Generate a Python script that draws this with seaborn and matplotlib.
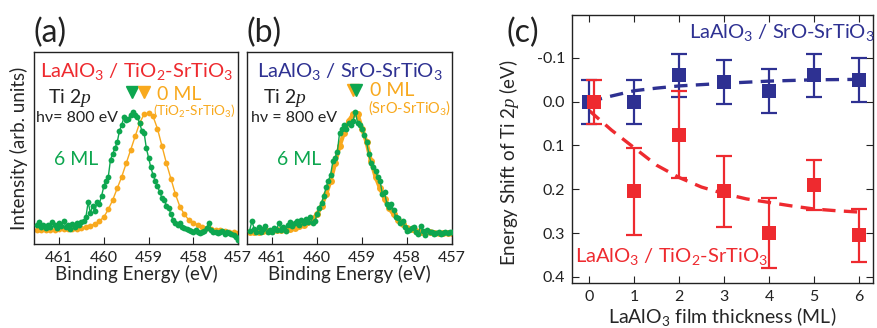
import matplotlib
matplotlib.use("Agg")
import matplotlib.pyplot as plt
import numpy as np
import pandas as pd
import seaborn as sns

# ---- panel (a): LaAlO3 / TiO2-SrTiO3, Ti 2p spectra ----
a_ref_energy = [461.5, 461.4, 461.3, 461.2, 461.1, 461.0, 460.9, 460.8, 460.7, 460.6,
                460.5, 460.4, 460.3, 460.2, 460.1, 460.0, 459.9, 459.8, 459.7, 459.6,
                459.5, 459.4, 459.3, 459.2, 459.1, 459.0, 458.9, 458.8, 458.7, 458.6,
                458.5, 458.4, 458.3, 458.2, 458.1, 458.0, 457.9, 457.8, 457.7, 457.6,
                457.5, 457.4, 457.3, 457.2, 457.1, 457.0]
a_ref_int = [0.075, 0.075, 0.075, 0.075, 0.075, 0.076, 0.076, 0.077, 0.078, 0.08,
             0.083, 0.088, 0.095, 0.105, 0.12, 0.14, 0.18, 0.23, 0.29, 0.35,
             0.42, 0.49, 0.56, 0.63, 0.675, 0.68, 0.665, 0.60, 0.51, 0.42,
             0.34, 0.26, 0.195, 0.155, 0.125, 0.11, 0.10, 0.09, 0.085, 0.08,
             0.075, 0.072, 0.068, 0.065, 0.06, 0.058]

a_film_energy = [461.5, 461.45, 461.4, 461.35, 461.3, 461.25, 461.2, 461.15, 461.1, 461.05,
                 461.0, 460.95, 460.9, 460.85, 460.8, 460.75, 460.7, 460.65, 460.6, 460.55,
                 460.5, 460.45, 460.4, 460.35, 460.3, 460.25, 460.2, 460.15, 460.1, 460.05,
                 460.0, 459.95, 459.9, 459.85, 459.8, 459.75, 459.7, 459.65, 459.6, 459.55,
                 459.5, 459.45, 459.4, 459.35, 459.3, 459.25, 459.2, 459.15, 459.1, 459.05,
                 459.0, 458.95, 458.9, 458.85, 458.8, 458.75, 458.7, 458.65, 458.6, 458.55,
                 458.5, 458.45, 458.4, 458.35, 458.3, 458.25, 458.2, 458.15, 458.1, 458.05,
                 458.0, 457.95, 457.9, 457.85, 457.8, 457.75, 457.7, 457.65, 457.6, 457.55,
                 457.5, 457.45, 457.4, 457.35, 457.3, 457.25, 457.2, 457.15, 457.1, 457.05,
                 457.0]
a_film_int = [0.10, 0.115, 0.09, 0.10, 0.085, 0.10, 0.09, 0.115, 0.10, 0.085,
              0.11, 0.095, 0.12, 0.09, 0.10, 0.08, 0.105, 0.09, 0.11, 0.10,
              0.115, 0.12, 0.14, 0.22, 0.16, 0.20, 0.17, 0.22, 0.21, 0.25,
              0.30, 0.33, 0.35, 0.44, 0.47, 0.50, 0.53, 0.59, 0.62, 0.66,
              0.645, 0.65, 0.67, 0.69, 0.67, 0.66, 0.63, 0.59, 0.58, 0.50,
              0.45, 0.40, 0.36, 0.33, 0.30, 0.27, 0.24, 0.23, 0.20, 0.19,
              0.155, 0.125, 0.11, 0.10, 0.11, 0.09, 0.085, 0.08, 0.075, 0.07,
              0.065, 0.075, 0.06, 0.055, 0.065, 0.07, 0.085, 0.11, 0.075, 0.06,
              0.065, 0.055, 0.06, 0.07, 0.05, 0.06, 0.055, 0.05, 0.045, 0.035,
              0.02]

# ---- panel (b): LaAlO3 / SrO-SrTiO3, Ti 2p spectra ----
b_ref_energy = a_ref_energy
b_ref_int = [0.06, 0.062, 0.064, 0.066, 0.068, 0.07, 0.072, 0.074, 0.077, 0.08,
             0.085, 0.092, 0.10, 0.115, 0.13, 0.155, 0.20, 0.26, 0.33, 0.42,
             0.51, 0.58, 0.64, 0.675, 0.675, 0.60, 0.53, 0.43, 0.35, 0.29,
             0.235, 0.185, 0.155, 0.125, 0.105, 0.085, 0.078, 0.07, 0.065, 0.062,
             0.06, 0.058, 0.057, 0.056, 0.056, 0.055]

b_film_energy = a_film_energy
b_film_int = [0.07, 0.12, 0.08, 0.065, 0.09, 0.06, 0.08, 0.095, 0.065, 0.075,
              0.06, 0.085, 0.075, 0.11, 0.075, 0.09, 0.07, 0.10, 0.115, 0.095,
              0.11, 0.12, 0.10, 0.125, 0.11, 0.13, 0.115, 0.14, 0.11, 0.12,
              0.155, 0.19, 0.215, 0.25, 0.295, 0.33, 0.36, 0.43, 0.45, 0.48,
              0.58, 0.60, 0.62, 0.60, 0.63, 0.62, 0.64, 0.69, 0.63, 0.62,
              0.60, 0.57, 0.53, 0.47, 0.42, 0.40, 0.38, 0.35, 0.33, 0.26,
              0.27, 0.21, 0.195, 0.21, 0.175, 0.14, 0.135, 0.11, 0.12, 0.09,
              0.07, 0.075, 0.085, 0.09, 0.06, 0.05, 0.095, 0.07, 0.045, 0.075,
              0.06, 0.065, 0.05, 0.055, 0.06, 0.05, 0.055, 0.06, 0.055, 0.06,
              0.06]

# ---- panel (c): energy shift vs thickness ----
thickness = [0, 1, 2, 3, 4, 5, 6]
sro_shift = [0.0, 0.0, -0.06, -0.045, -0.025, -0.06, -0.05]
sro_err = [0.05, 0.05, 0.05, 0.05, 0.05, 0.05, 0.05]
tio2_thickness = [0.1, 1, 2, 3, 4, 5, 6]
tio2_shift = [0.0, 0.205, 0.075, 0.205, 0.30, 0.19, 0.305]
tio2_err = [0.05, 0.10, 0.10, 0.08, 0.08, 0.058, 0.06]

sro_fit_x = [0, 0.5, 1, 1.5, 2, 3, 4, 5, 6]
sro_fit_y = [0.0, -0.013, -0.025, -0.031, -0.036, -0.042, -0.047, -0.05, -0.051]
tio2_fit_x = [0, 0.5, 1, 1.5, 2, 2.5, 3, 3.5, 4, 4.5, 5, 5.5, 6]
tio2_fit_y = [0.02, 0.065, 0.105, 0.145, 0.173, 0.195, 0.21, 0.222, 0.23, 0.238, 0.245, 0.249, 0.252]

GREEN = "#0DA64F"
ORANGE = "#F8A91E"
RED = "#EE2A2F"
BLUE = "#2E3192"

sns.set_style("ticks")
plt.rcParams["font.family"] = ["Lato", "DejaVu Sans"]
plt.rcParams["mathtext.fontset"] = "custom"
plt.rcParams["mathtext.it"] = "Liberation Serif:italic"
plt.rcParams["mathtext.rm"] = "Lato"
plt.rcParams["mathtext.default"] = "regular"
plt.rcParams["axes.unicode_minus"] = False
plt.rcParams["axes.edgecolor"] = "#222222"
plt.rcParams["axes.linewidth"] = 1.0
plt.rcParams["text.color"] = "#222222"
plt.rcParams["xtick.color"] = "#222222"
plt.rcParams["ytick.color"] = "#222222"

fig = plt.figure(figsize=(8.77, 3.28), dpi=100)
ax_a = fig.add_axes([0.0388, 0.2561, 0.2326, 0.5854])
ax_b = fig.add_axes([0.2816, 0.2561, 0.2338, 0.5854])
ax_c = fig.add_axes([0.6522, 0.1372, 0.3432, 0.8171])


def spectrum_panel(ax, ref_e, ref_i, film_e, film_i, ref_lw, ref_ms):
    sns.lineplot(x=ref_e, y=ref_i, ax=ax, color=ORANGE, marker="o", markersize=ref_ms,
                 markeredgewidth=0, linewidth=ref_lw, zorder=2)
    sns.lineplot(x=film_e, y=film_i, ax=ax, color=GREEN, marker="o", markersize=4.2,
                 markeredgewidth=0, linewidth=1.0, zorder=3)
    ax.set_xlim(461.56, 457.0)
    ax.set_ylim(0, 1)
    ax.set_xticks([461, 460, 459, 458, 457])
    ax.set_yticks([])
    ax.tick_params(axis="x", direction="in", length=5, labelsize=11.5, pad=5)
    ax.set_xlabel("Binding Energy (eV)", fontsize=13.5, labelpad=0)
    ax.set_ylabel("")
    for s in ax.spines.values():
        s.set_visible(True)


spectrum_panel(ax_a, a_ref_energy, a_ref_int, a_film_energy, a_film_int, 1.0, 4.2)
spectrum_panel(ax_b, b_ref_energy, b_ref_int, b_film_energy, b_film_int, 3.0, 5.0)
ax_a.set_ylabel("Intensity (arb. units)", fontsize=13.5, labelpad=4)

# panel (a) labels
ax_a.text(0.5, 0.896, r"LaAlO$_3$ / TiO$_2$-SrTiO$_3$", color=RED, fontsize=14.5,
          ha="center", va="center", transform=ax_a.transAxes)
ax_a.text(0.07, 0.76, r"Ti 2$\mathit{p}$", fontsize=14, transform=ax_a.transAxes, va="center")
ax_a.text(0.01, 0.656, "hν= 800 eV", fontsize=11.5, transform=ax_a.transAxes, va="center",
          family=["Lato", "DejaVu Sans"])
ax_a.text(0.1, 0.44, "6 ML", color=GREEN, fontsize=14, transform=ax_a.transAxes, va="center")
ax_a.text(0.605, 0.776, "0 ML", color=ORANGE, fontsize=14, transform=ax_a.transAxes, va="center")
ax_a.text(0.585, 0.69, r"(TiO$_2$-SrTiO$_3$)", color=ORANGE, fontsize=9.8, transform=ax_a.transAxes,
          va="center")
ax_a.plot([459.37], [0.79], marker="v", color=GREEN, markersize=8.5, linestyle="none")
ax_a.plot([459.1], [0.79], marker="v", color=ORANGE, markersize=8.5, linestyle="none")

# panel (b) labels
ax_b.text(0.5, 0.896, r"LaAlO$_3$ / SrO-SrTiO$_3$", color=BLUE, fontsize=14.5,
          ha="center", va="center", transform=ax_b.transAxes)
ax_b.text(0.08, 0.76, r"Ti 2$\mathit{p}$", fontsize=14, transform=ax_b.transAxes, va="center")
ax_b.text(0.02, 0.656, "hν = 800 eV", fontsize=11.5, transform=ax_b.transAxes, va="center",
          family=["Lato", "DejaVu Sans"])
ax_b.text(0.145, 0.44, "6 ML", color=GREEN, fontsize=14, transform=ax_b.transAxes, va="center")
ax_b.text(0.6, 0.8, "0 ML", color=ORANGE, fontsize=14, transform=ax_b.transAxes, va="center")
ax_b.text(0.59, 0.71, r"(SrO-SrTiO$_3$)", color=ORANGE, fontsize=10.5, transform=ax_b.transAxes,
          va="center")
ax_b.plot([459.2], [0.8], marker="v", color=ORANGE, markersize=8.5, linestyle="none")
ax_b.plot([459.14], [0.8], marker="v", color=GREEN, markersize=8.5, linestyle="none")

# panel (c)
sns.lineplot(x=sro_fit_x, y=sro_fit_y, ax=ax_c, color=BLUE, linewidth=2.4,
             linestyle=(0, (4, 2.5)), zorder=2)
sns.lineplot(x=tio2_fit_x, y=tio2_fit_y, ax=ax_c, color=RED, linewidth=2.4,
             linestyle=(0, (4, 2.5)), zorder=2)
ax_c.errorbar(thickness, sro_shift, yerr=sro_err, fmt="none", ecolor=BLUE,
              elinewidth=1.6, capsize=5.5, capthick=1.6, zorder=3)
ax_c.errorbar(tio2_thickness, tio2_shift, yerr=tio2_err, fmt="none", ecolor=RED,
              elinewidth=1.6, capsize=5.5, capthick=1.6, zorder=3)
sns.scatterplot(x=thickness, y=sro_shift, ax=ax_c, color=BLUE, marker="s", s=95,
                linewidth=0, zorder=4)
sns.scatterplot(x=tio2_thickness, y=tio2_shift, ax=ax_c, color=RED, marker="s", s=95,
                linewidth=0, zorder=4)
ax_c.set_xlim(-0.38, 6.31)
ax_c.set_ylim(0.414, -0.198)
ax_c.set_xticks(thickness)
ax_c.set_yticks([-0.1, 0.0, 0.1, 0.2, 0.3, 0.4])
ax_c.set_yticklabels(["-0.1", "0.0", "0.1", "0.2", "0.3", "0.4"])
ax_c.tick_params(direction="in", length=5, labelsize=11.5, top=True, right=True, pad=5)
ax_c.set_xlabel(r"LaAlO$_3$ film thickness (ML)", fontsize=14, labelpad=1)
ax_c.set_ylabel(r"Energy Shift of Ti 2$\mathit{p}$ (eV)", fontsize=13.5, labelpad=5)
ax_c.yaxis.set_label_coords(-0.17, 0.45)
ax_c.text(1.005, 0.933, r"LaAlO$_3$ / SrO-SrTiO$_3$", color=BLUE, fontsize=14.5,
          ha="right", va="center", transform=ax_c.transAxes)
ax_c.text(0.01, 0.1, r"LaAlO$_3$ / TiO$_2$-SrTiO$_3$", color=RED, fontsize=14.5,
          ha="left", va="center", transform=ax_c.transAxes)

# panel letters
fig.text(0.038, 0.90, "(a)", fontsize=23, va="center")
fig.text(0.281, 0.90, "(b)", fontsize=23, va="center")
fig.text(0.577, 0.90, "(c)", fontsize=23, va="center")

fig.savefig("out.png", dpi=100)
